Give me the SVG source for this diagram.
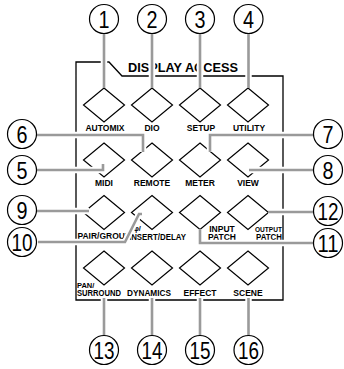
<svg xmlns="http://www.w3.org/2000/svg" xmlns:xlink="http://www.w3.org/1999/xlink" width="344" height="369" viewBox="0 0 344 369">
<style>
.frame{fill:none;stroke:#000;stroke-width:1.3}
.btn{fill:#fff;stroke:#000;stroke-width:1.2;stroke-linejoin:miter}
.lbl{font-family:"Liberation Sans",Arial,sans-serif;font-weight:bold;font-size:8.5px;fill:#000;text-anchor:middle}
.sm{font-size:7.5px}
.title{font-family:"Liberation Sans",Arial,sans-serif;font-weight:bold;font-size:12px;fill:#000}
.halo{fill:none;stroke:#fff;stroke-width:6.5}
.lead{fill:none;stroke:#9a9a9a;stroke-width:2.6}
.co{fill:#fff;stroke:#000;stroke-width:1.2}
.num{font-family:"Liberation Sans",Arial,sans-serif;font-size:24px;fill:#000;text-anchor:middle}
</style>
<defs>
<polygon id="dia" points="0,-17 20.5,0 0,17 -20.5,0"/>
<path id="c1" d="M104,33 V88"/>
<path id="c2" d="M152,33 V88"/>
<path id="c3" d="M200,33 V88"/>
<path id="c4" d="M248.5,33 V88"/>
<path id="c6" d="M36,135 H143 V152"/>
<path id="c5" d="M36,170 H103 V164"/>
<path id="c9" d="M36,211 H89"/>
<path id="c10" d="M38,242 H125 L139,214 H142"/>
<path id="c7" d="M314,135 H210 V152"/>
<path id="c8" d="M314,170 H249"/>
<path id="c12" d="M314,212 H268"/>
<path id="c11" d="M200,229 V243 H314"/>
<path id="c13" d="M104,298 V336"/>
<path id="c14" d="M152,298 V336"/>
<path id="c15" d="M200,298 V336"/>
<path id="c16" d="M248.5,298 V336"/>
</defs>

<g id="panel">
<path class="frame" d="M76,300 V62 H109 L122,76 H283 V300 Z"/>
<text class="title" x="128" y="72" textLength="110" lengthAdjust="spacingAndGlyphs">DISPLAY ACCESS</text>
</g>

<g id="btn-automix"><use href="#dia" class="btn" x="104" y="105"/><text class="lbl" x="105" y="131">AUTOMIX</text></g>
<g id="btn-dio"><use href="#dia" class="btn" x="152" y="105"/><text class="lbl" x="152" y="131">DIO</text></g>
<g id="btn-setup"><use href="#dia" class="btn" x="200" y="105"/><text class="lbl" x="201" y="131">SETUP</text></g>
<g id="btn-utility"><use href="#dia" class="btn" x="248" y="105"/><text class="lbl" x="249" y="131">UTILITY</text></g>

<g id="btn-midi"><use href="#dia" class="btn" x="104" y="160"/><text class="lbl" x="104" y="186">MIDI</text></g>
<g id="btn-remote"><use href="#dia" class="btn" x="152" y="160"/><text class="lbl" x="152" y="186">REMOTE</text></g>
<g id="btn-meter"><use href="#dia" class="btn" x="200" y="160"/><text class="lbl" x="200" y="186">METER</text></g>
<g id="btn-view"><use href="#dia" class="btn" x="248" y="160"/><text class="lbl" x="248" y="186">VIEW</text></g>

<g id="btn-pair"><use href="#dia" class="btn" x="104" y="212.5"/><text class="lbl" x="104" y="239">PAIR/GROUP</text></g>
<g id="btn-insert"><use href="#dia" class="btn" x="152" y="212.5"/><text class="lbl sm" x="133.5" y="231" style="text-anchor:start">φ/</text><text class="lbl" x="129" y="239.5" style="text-anchor:start" textLength="57" lengthAdjust="spacingAndGlyphs">INSERT/DELAY</text></g>
<g id="btn-input"><use href="#dia" class="btn" x="200" y="212.5"/><text class="lbl" x="222" y="231.5">INPUT</text><text class="lbl" x="222" y="240">PATCH</text></g>
<g id="btn-output"><use href="#dia" class="btn" x="248" y="212.5"/><text class="lbl sm" x="282" y="231.5" style="text-anchor:end" textLength="27" lengthAdjust="spacingAndGlyphs">OUTPUT</text><text class="lbl" x="282" y="240" style="text-anchor:end" textLength="26" lengthAdjust="spacingAndGlyphs">PATCH</text></g>

<g id="btn-pan"><use href="#dia" class="btn" x="104" y="268"/><text class="lbl sm" x="77" y="287.5" style="text-anchor:start">PAN/</text><text class="lbl" x="77" y="296" style="text-anchor:start" textLength="44" lengthAdjust="spacingAndGlyphs">SURROUND</text></g>
<g id="btn-dynamics"><use href="#dia" class="btn" x="152" y="268"/><text class="lbl" x="149" y="296" textLength="44" lengthAdjust="spacingAndGlyphs">DYNAMICS</text></g>
<g id="btn-effect"><use href="#dia" class="btn" x="200" y="268"/><text class="lbl" x="200" y="296">EFFECT</text></g>
<g id="btn-scene"><use href="#dia" class="btn" x="248" y="268"/><text class="lbl" x="248" y="296">SCENE</text></g>

<g id="connectors">
<use href="#c1" class="halo"/><use href="#c2" class="halo"/><use href="#c3" class="halo"/><use href="#c4" class="halo"/>
<use href="#c6" class="halo"/><use href="#c5" class="halo"/><use href="#c9" class="halo"/><use href="#c10" class="halo"/>
<use href="#c7" class="halo"/><use href="#c8" class="halo"/><use href="#c12" class="halo"/><use href="#c11" class="halo"/>
<use href="#c13" class="halo"/><use href="#c14" class="halo"/><use href="#c15" class="halo"/><use href="#c16" class="halo"/>
<use href="#c1" class="lead"/><use href="#c2" class="lead"/><use href="#c3" class="lead"/><use href="#c4" class="lead"/>
<use href="#c6" class="lead"/><use href="#c5" class="lead"/><use href="#c9" class="lead"/><use href="#c10" class="lead"/>
<use href="#c7" class="lead"/><use href="#c8" class="lead"/><use href="#c12" class="lead"/><use href="#c11" class="lead"/>
<use href="#c13" class="lead"/><use href="#c14" class="lead"/><use href="#c15" class="lead"/><use href="#c16" class="lead"/>
</g>

<g id="n1"><circle class="co" cx="104" cy="19" r="14.5"/><text class="num" x="104" y="27.5" textLength="11" lengthAdjust="spacingAndGlyphs">1</text></g>
<g id="n2"><circle class="co" cx="152" cy="19" r="14.5"/><text class="num" x="152" y="27.5" textLength="11" lengthAdjust="spacingAndGlyphs">2</text></g>
<g id="n3"><circle class="co" cx="200" cy="19" r="14.5"/><text class="num" x="200" y="27.5" textLength="11" lengthAdjust="spacingAndGlyphs">3</text></g>
<g id="n4"><circle class="co" cx="248.5" cy="19" r="14.5"/><text class="num" x="248.5" y="27.5" textLength="11" lengthAdjust="spacingAndGlyphs">4</text></g>
<g id="n6"><circle class="co" cx="22" cy="134" r="14.5"/><text class="num" x="22" y="142.5" textLength="11" lengthAdjust="spacingAndGlyphs">6</text></g>
<g id="n5"><circle class="co" cx="22" cy="170" r="14.5"/><text class="num" x="22" y="178.5" textLength="11" lengthAdjust="spacingAndGlyphs">5</text></g>
<g id="n9"><circle class="co" cx="22" cy="210" r="14.5"/><text class="num" x="22" y="218.5" textLength="11" lengthAdjust="spacingAndGlyphs">9</text></g>
<g id="n10"><circle class="co" cx="22" cy="242" r="14.5"/><text class="num" x="22" y="250.5" textLength="21" lengthAdjust="spacingAndGlyphs">10</text></g>
<g id="n7"><circle class="co" cx="328" cy="134" r="14.5"/><text class="num" x="328" y="142.5" textLength="11" lengthAdjust="spacingAndGlyphs">7</text></g>
<g id="n8"><circle class="co" cx="328" cy="170" r="14.5"/><text class="num" x="328" y="178.5" textLength="11" lengthAdjust="spacingAndGlyphs">8</text></g>
<g id="n12"><circle class="co" cx="328" cy="211" r="14.5"/><text class="num" x="328" y="219.5" textLength="21" lengthAdjust="spacingAndGlyphs">12</text></g>
<g id="n11"><circle class="co" cx="328" cy="243" r="14.5"/><text class="num" x="328" y="251.5" textLength="21" lengthAdjust="spacingAndGlyphs">11</text></g>
<g id="n13"><circle class="co" cx="104" cy="350" r="14.5"/><text class="num" x="104" y="358.5" textLength="21" lengthAdjust="spacingAndGlyphs">13</text></g>
<g id="n14"><circle class="co" cx="152" cy="350" r="14.5"/><text class="num" x="152" y="358.5" textLength="21" lengthAdjust="spacingAndGlyphs">14</text></g>
<g id="n15"><circle class="co" cx="200" cy="350" r="14.5"/><text class="num" x="200" y="358.5" textLength="21" lengthAdjust="spacingAndGlyphs">15</text></g>
<g id="n16"><circle class="co" cx="248.5" cy="350" r="14.5"/><text class="num" x="248.5" y="358.5" textLength="21" lengthAdjust="spacingAndGlyphs">16</text></g>
</svg>
